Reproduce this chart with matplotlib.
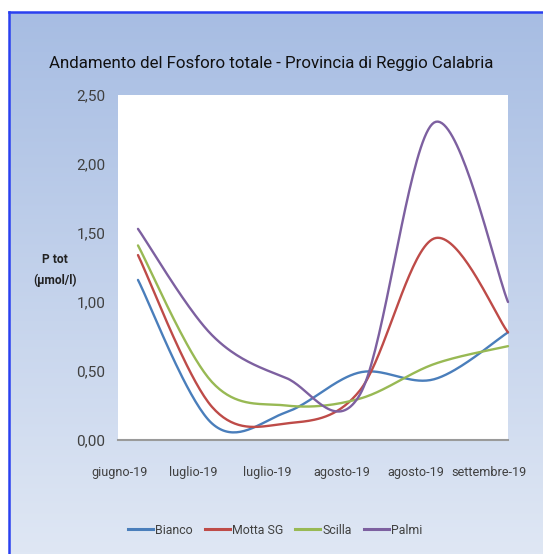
import numpy as np
import matplotlib
matplotlib.use("Agg")
import matplotlib.pyplot as plt
from matplotlib.lines import Line2D

# ---- data ----
categories = ["giugno-19", "luglio-19", "luglio-19", "agosto-19", "agosto-19", "settembre-19"]
bianco = [1.16, 0.12, 0.20, 0.49, 0.44, 0.78]
motta = [1.34, 0.24, 0.12, 0.36, 1.46, 0.78]
scilla = [1.41, 0.42, 0.25, 0.30, 0.55, 0.68]
palmi = [1.53, 0.76, 0.45, 0.33, 2.30, 1.00]
series_names = ["Bianco", "Motta SG", "Scilla", "Palmi"]
series_values = [bianco, motta, scilla, palmi]
colors = ["#4a7ebb", "#be4b48", "#98b954", "#7d60a0"]
yticks = [0.0, 0.5, 1.0, 1.5, 2.0, 2.5]
ytick_labels = ["0,00", "0,50", "1,00", "1,50", "2,00", "2,50"]

FAM = ["Roboto", "DejaVu Sans"]


def smooth(xs, ys, n=40):
    """Catmull-Rom style smoothing (like Excel smoothed lines)."""
    pts = np.column_stack([xs, ys]).astype(float)
    P = np.vstack([pts[0], pts, pts[-1]])
    out = []
    for i in range(1, len(P) - 2):
        p0, p1, p2, p3 = P[i - 1], P[i], P[i + 1], P[i + 2]
        m1 = (p2 - p0) / 2.0
        m2 = (p3 - p1) / 2.0
        t = np.linspace(0, 1, n)[:, None]
        h00 = 2 * t**3 - 3 * t**2 + 1
        h10 = t**3 - 2 * t**2 + t
        h01 = -2 * t**3 + 3 * t**2
        h11 = t**3 - t**2
        seg = h00 * p1 + h10 * m1 + h01 * p2 + h11 * m2
        out.append(seg if i == 1 else seg[1:])
    out = np.vstack(out)
    return out[:, 0], out[:, 1]


W, H = 543, 554
fig = plt.figure(figsize=(W / 100, H / 100), dpi=100)
fig.patch.set_facecolor("white")
renderer = fig.canvas.get_renderer()


def fit_size(text, target_px, base=10.0, **kw):
    t = fig.text(0, 0, text, fontsize=base, family=FAM, **kw)
    w = t.get_window_extent(renderer=renderer).width
    t.remove()
    return base * target_px / w


# gradient background panel
bg = fig.add_axes([9 / W, 0, 1 - 9 / W, (H - 12) / H])
grad = np.linspace(0, 1, 256)[:, None]
top = np.array([0.655, 0.741, 0.890])
bot = np.array([0.875, 0.906, 0.957])
img = top[None, None, :] * (1 - grad[:, :, None]) + bot[None, None, :] * grad[:, :, None]
bg.imshow(img, aspect="auto", extent=[0, 1, 0, 1])
bg.set_xlim(0, 1)
bg.set_ylim(0, 1)
bg.axis("off")
fig.add_artist(Line2D([9 / W, 9 / W], [0, (H - 12) / H], color="#2a40f0", lw=1.8))
fig.add_artist(Line2D([9 / W, 1], [(H - 12) / H, (H - 12) / H], color="#2a40f0", lw=1.8))

# plot area
left, right, topy, boty = 118, 508, 95, 440
ax = fig.add_axes([left / W, (H - boty) / H, (right - left) / W, (boty - topy) / H])
ax.set_facecolor("white")
for s in ["top", "right", "left"]:
    ax.spines[s].set_visible(False)
ax.spines["bottom"].set_color("#9a9a9a")
ax.spines["bottom"].set_linewidth(1.5)

x = np.arange(len(categories))
for name, vals, c in zip(series_names, series_values, colors):
    sx, sy = smooth(x, vals)
    ax.plot(sx, sy, color=c, lw=1.7, label=name, clip_on=False, solid_capstyle="round")

tick_fs = min(fit_size("settembre-19", 67) * 1.12, 11)
ytick_fs = min(fit_size("2,50", 26) * 1.15, 11)

ax.set_xlim(-0.27, 5)
ax.set_ylim(0, 2.5)
ax.set_yticks(yticks)
ax.set_yticklabels(ytick_labels, family=FAM, fontsize=ytick_fs, color="#404040")
ax.set_xticks(x - 0.25)
ax.set_xticklabels(categories, family=FAM, fontsize=tick_fs, color="#404040")
ax.tick_params(axis="both", length=0)
ax.tick_params(axis="y", pad=9)
ax.tick_params(axis="x", pad=19)

title = "Andamento del Fosforo totale - Provincia di Reggio Calabria"
title_fs = min(fit_size(title, 388) * 1.15, 16)
fig.text(271 / W, 1 - 63 / H, title, ha="center", va="center",
         fontsize=title_fs, family=FAM, color="#111111")
ylab_fs = min(fit_size("(µmol/l)", 40, fontweight="bold") * 1.1, 11)
fig.text(55 / W, 1 - 270 / H, "P tot\n(µmol/l)", ha="center", va="center",
         fontsize=ylab_fs, family=FAM, color="#222222",
         fontweight="bold", linespacing=1.7)

leg_fs = min(fit_size("Motta SG", 46) * 1.12, 11)
handles = [Line2D([0], [0], color=c, lw=2.2) for c in colors]
leg = fig.legend(handles, series_names, loc="center", bbox_to_anchor=(275 / W, 1 - 530 / H),
                 ncol=4, frameon=False, handlelength=2.0, handletextpad=0.15, columnspacing=1.0,
                 prop={"family": FAM, "size": leg_fs})
for t in leg.get_texts():
    t.set_color("#404040")

fig.savefig("out.png", dpi=100)
